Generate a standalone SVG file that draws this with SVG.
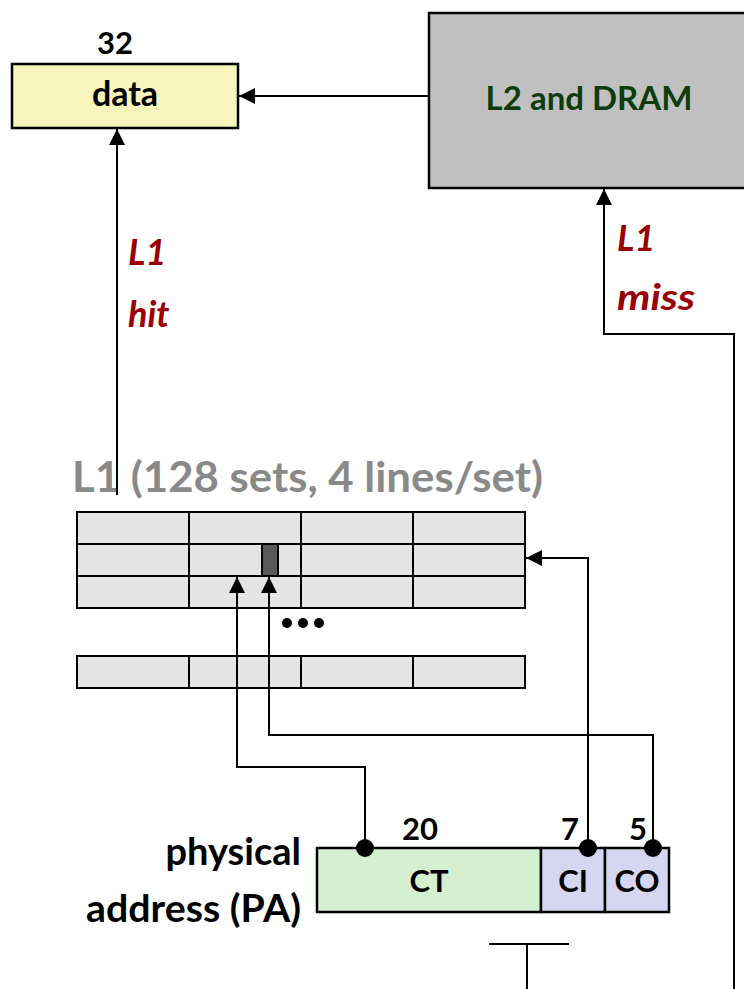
<svg xmlns="http://www.w3.org/2000/svg" width="744" height="989" viewBox="0 0 744 989">
<defs>
<style>
.t{font-family:Lato,"Liberation Sans",sans-serif;font-weight:bold;fill:#000}
.red{font-family:Lato,"Liberation Sans",sans-serif;font-weight:bold;font-style:italic;fill:#990000;font-size:36px}
.box{stroke:#000;stroke-width:2.5}
.cell{fill:#e4e4e4;stroke:#000;stroke-width:2}
.c{fill:none;stroke:#000;stroke-width:2}
</style>
<marker id="ah" markerUnits="userSpaceOnUse" markerWidth="16" markerHeight="16" viewBox="0 0 16 16" refX="16" refY="8" orient="auto">
<path d="M0,0 L16,8 L0,16 Z" fill="#000"/>
</marker>
</defs>
<rect width="744" height="989" fill="#fff"/>

<g id="data">
<rect class="box" x="12" y="64" width="226" height="64" fill="#f7f4bc"/>
<text class="t" x="125" y="106" font-size="34" text-anchor="middle">data</text>
<text class="t" x="115" y="54" font-size="31" text-anchor="middle">32</text>
</g>

<g id="l2dram">
<rect class="box" x="429" y="13" width="330" height="175" fill="#c0c0c0"/>
<text class="t" x="589" y="110" font-size="33" text-anchor="middle" style="fill:#0d3d0d">L2 and DRAM</text>
</g>

<g id="l1cache">
<text class="t" x="72" y="492" font-size="42" style="fill:#898989" textLength="471" lengthAdjust="spacingAndGlyphs">L1 (128 sets, 4 lines/set)</text>
<rect class="cell" x="77" y="512" width="112" height="32"/>
<rect class="cell" x="189" y="512" width="112" height="32"/>
<rect class="cell" x="301" y="512" width="112" height="32"/>
<rect class="cell" x="413" y="512" width="112" height="32"/>
<rect class="cell" x="77" y="544" width="112" height="32"/>
<rect class="cell" x="189" y="544" width="112" height="32"/>
<rect class="cell" x="301" y="544" width="112" height="32"/>
<rect class="cell" x="413" y="544" width="112" height="32"/>
<rect class="cell" x="77" y="576" width="112" height="32"/>
<rect class="cell" x="189" y="576" width="112" height="32"/>
<rect class="cell" x="301" y="576" width="112" height="32"/>
<rect class="cell" x="413" y="576" width="112" height="32"/>
<rect x="262" y="544" width="16" height="32" fill="#595959" stroke="#000" stroke-width="2"/>
<circle cx="287" cy="623" r="5" fill="#000"/>
<circle cx="303" cy="623" r="5" fill="#000"/>
<circle cx="319" cy="623" r="5" fill="#000"/>
<rect class="cell" x="77" y="656" width="112" height="32"/>
<rect class="cell" x="189" y="656" width="112" height="32"/>
<rect class="cell" x="301" y="656" width="112" height="32"/>
<rect class="cell" x="413" y="656" width="112" height="32"/>
</g>

<g id="pa">
<rect class="box" x="317" y="848" width="224" height="64" fill="#d5f0d0"/>
<rect class="box" x="541" y="848" width="64" height="64" fill="#d6d6f2"/>
<rect class="box" x="605" y="848" width="64" height="64" fill="#d6d6f2"/>
<text class="t" x="429" y="892" font-size="31" text-anchor="middle">CT</text>
<text class="t" x="573" y="892" font-size="31" text-anchor="middle">CI</text>
<text class="t" x="637" y="892" font-size="31" text-anchor="middle">CO</text>
<text class="t" x="420" y="840" font-size="31" text-anchor="middle">20</text>
<text class="t" x="570" y="840" font-size="31" text-anchor="middle">7</text>
<text class="t" x="638" y="840" font-size="31" text-anchor="middle">5</text>
<text class="t" x="301" y="865" font-size="38" text-anchor="end">physical</text>
<text class="t" x="301" y="922" font-size="38" text-anchor="end" textLength="215" lengthAdjust="spacingAndGlyphs">address (PA)</text>
</g>

<g id="labels">
<text class="red" x="128" y="265">L1</text>
<text class="red" x="128" y="327">hit</text>
<text class="red" x="617" y="251">L1</text>
<text class="red" x="617" y="310" textLength="78" lengthAdjust="spacingAndGlyphs">miss</text>
</g>

<g id="connectors">
<path class="c" d="M429,96 H239" marker-end="url(#ah)"/>
<path class="c" d="M117,495 V129" marker-end="url(#ah)"/>
<path class="c" d="M734,989 V334 H604 V189" marker-end="url(#ah)"/>
<path class="c" d="M588,848 V558 H526" marker-end="url(#ah)"/>
<path class="c" d="M365,848 V767 H237 V577" marker-end="url(#ah)"/>
<path class="c" d="M653,848 V735 H269 V577" marker-end="url(#ah)"/>
<circle cx="365" cy="848" r="9" fill="#000"/>
<circle cx="588" cy="848" r="9" fill="#000"/>
<circle cx="653" cy="848" r="9" fill="#000"/>
<path class="c" d="M489,944 H569 M527,944 V989"/>
</g>
</svg>
